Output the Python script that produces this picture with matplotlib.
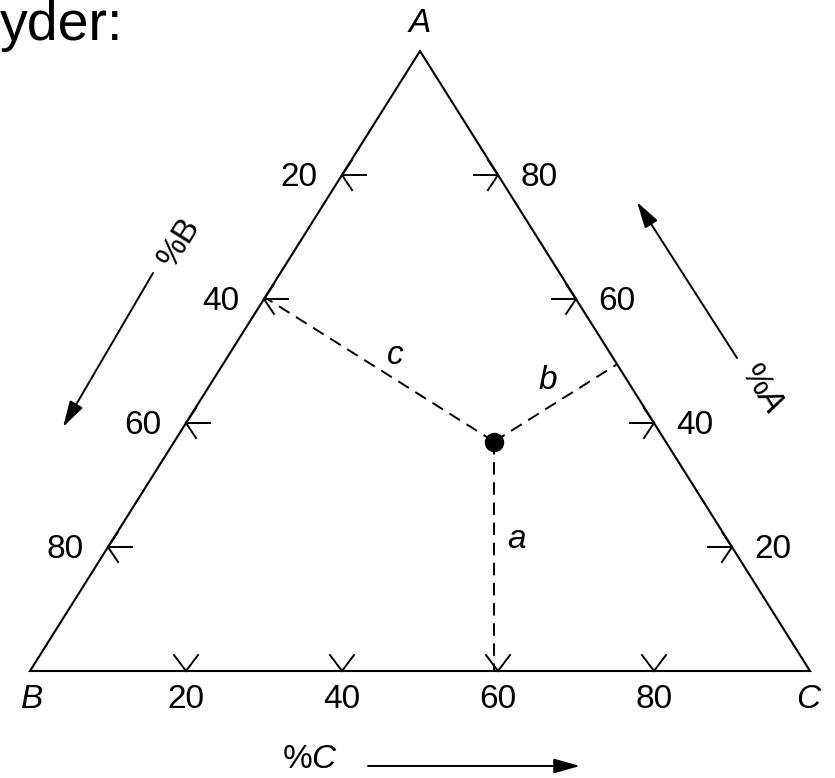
import matplotlib.pyplot as plt
import numpy as np

plt.rcParams['font.family'] = ['Liberation Sans', 'DejaVu Sans']
plt.rcParams['mathtext.fontset'] = 'custom'
plt.rcParams['mathtext.rm'] = 'Liberation Sans'
plt.rcParams['mathtext.it'] = 'Liberation Sans:italic'
plt.rcParams['lines.scale_dashes'] = False

# ternary diagram: values
vertex_labels = ["A", "B", "C"]
tick_values = [20, 40, 60, 80]
# composition of the marked point (% A, % B, % C)
point_a, point_b, point_c = 37, 22, 41
distance_labels = ["a", "b", "c"]
axis_labels = ["%$A$", "%B", "%$C$"]

W, H = 835, 778
# corner positions in pixels (layout only)
A = np.array([420.0, 51.0])
B = np.array([30.0, 671.0])
C = np.array([810.0, 671.0])


def tern(a, b, c):
    return (a * A + b * B + c * C) / (a + b + c)


def foot(p, p0, p1):
    d = p1 - p0
    t = np.dot(p - p0, d) / np.dot(d, d)
    return p0 + t * d


def head(ax, tip, direction, length, half, lw=1.4):
    d = np.array(direction, float)
    d /= np.linalg.norm(d)
    n = np.array([-d[1], d[0]])
    for s in (1, -1):
        end = tip - d * length + s * n * half
        ax.plot([tip[0], end[0]], [tip[1], end[1]], color='k', lw=lw)


fig = plt.figure(figsize=(W / 100, H / 100), dpi=100)
ax = fig.add_axes([0, 0, 1, 1])
ax.set_xlim(0, W)
ax.set_ylim(H, 0)
ax.axis('off')

# triangle
tri = np.array([A, B, C, A])
ax.plot(tri[:, 0], tri[:, 1], color='k', lw=1.5, solid_joinstyle='miter')

fs = 24
for v in tick_values:
    f = v / 100
    # left side, %B
    p = tern(1 - f, f, 0)
    ax.plot([p[0], p[0] + 24], [p[1], p[1]], color='k', lw=1.4)
    head(ax, p, (-1, 0), 10, 15)
    ax.text(p[0] - 43, p[1] + 2, str(v), fontsize=fs, ha='center', va='center')
    # right side, %A
    p = tern(f, 0, 1 - f)
    ax.plot([p[0] - 24, p[0]], [p[1], p[1]], color='k', lw=1.4)
    head(ax, p, (1, 0), 10, 15)
    ax.text(p[0] + 41, p[1] + 2, str(v), fontsize=fs, ha='center', va='center')
    # bottom, %C
    p = tern(0, 1 - f, f)
    head(ax, p, (0, 1), 16, 12)
    ax.text(p[0], p[1] + 28, str(v), fontsize=fs, ha='center', va='center')

# corner labels
ax.text(A[0], A[1] - 28, vertex_labels[0], fontsize=fs, style='italic', ha='center', va='center')
ax.text(B[0] + 2, B[1] + 28, vertex_labels[1], fontsize=fs, style='italic', ha='center', va='center')
ax.text(C[0] - 2, C[1] + 28, vertex_labels[2], fontsize=fs, style='italic', ha='center', va='center')

# the point and its distances to the sides
P = tern(point_a, point_b, point_c)
fa = foot(P, B, C)
fb = foot(P, A, C)
fc = foot(P, A, B)
for q in (fa, fb, fc):
    ax.plot([P[0], q[0]], [P[1], q[1]], color='k', lw=1.4, dashes=(9, 5.5))
ax.plot(P[0], P[1], 'o', color='k', markersize=13)
ax.text(517, 540, distance_labels[0], fontsize=fs, style='italic', ha='center', va='center')
ax.text(548, 380, distance_labels[1], fontsize=fs, style='italic', ha='center', va='center')
ax.text(395, 355, distance_labels[2], fontsize=fs, style='italic', ha='center', va='center')

# direction arrows
aprops = dict(arrowstyle='-|>,head_length=1.6,head_width=0.45', color='k', lw=1.4,
              mutation_scale=10, shrinkA=0, shrinkB=0)
ax.annotate('', xy=(637, 202), xytext=(737, 358), arrowprops=aprops)
ax.text(762, 388, axis_labels[0], fontsize=fs, rotation=-57.8, ha='center', va='center')
ax.annotate('', xy=(63, 427), xytext=(153, 273), arrowprops=aprops)
ax.text(179, 242, axis_labels[1], fontsize=fs, rotation=57.8, ha='center', va='center')
ax.annotate('', xy=(580, 766), xytext=(368, 766), arrowprops=aprops)
ax.text(310, 760, axis_labels[2], fontsize=fs, ha='center', va='center')

# caption fragment at top left
ax.text(0, 40, "yder:", fontsize=40, ha='left', va='baseline')

fig.savefig("out.png", dpi=100)
